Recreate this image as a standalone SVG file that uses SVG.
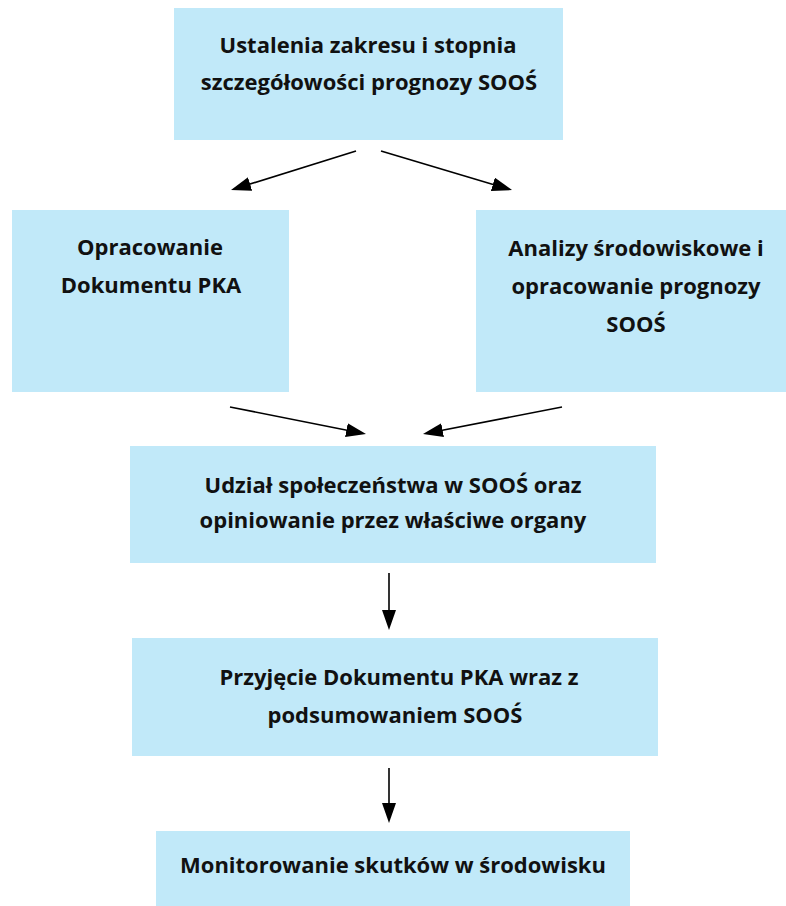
<svg xmlns="http://www.w3.org/2000/svg" width="786" height="906" viewBox="0 0 786 906">
<style>
.box{fill:#C1E9F9;}
.t{font-family:"Open Sans",Lato,"Liberation Sans",sans-serif;font-weight:bold;font-size:22px;fill:#111;text-anchor:middle;}
.c{stroke:#000;stroke-width:1.6;fill:none;marker-end:url(#ah);}
</style>
<defs>
<marker id="ah" markerUnits="userSpaceOnUse" markerWidth="20" markerHeight="14" refX="16" refY="7" orient="auto">
<path d="M0,0 L20,7 L0,14 z" fill="#000"/>
</marker>
</defs>
<rect width="786" height="906" fill="#fff"/>
<g id="n1">
<rect class="box" x="174" y="8" width="389" height="132"/>
<text class="t" x="368" y="53">Ustalenia zakresu i stopnia</text>
<text class="t" x="369" y="90">szczegółowości prognozy SOOŚ</text>
</g>
<g id="n2">
<rect class="box" x="12" y="210" width="277" height="182"/>
<text class="t" x="150" y="255">Opracowanie</text>
<text class="t" x="151" y="293">Dokumentu PKA</text>
</g>
<g id="n3">
<rect class="box" x="476" y="210" width="310" height="182"/>
<text class="t" x="636" y="256">Analizy środowiskowe i</text>
<text class="t" x="636" y="294">opracowanie prognozy</text>
<text class="t" x="636" y="332">SOOŚ</text>
</g>
<g id="n4">
<rect class="box" x="130" y="446" width="526" height="117"/>
<text class="t" x="393" y="493">Udział społeczeństwa w SOOŚ oraz</text>
<text class="t" x="393" y="528">opiniowanie przez właściwe organy</text>
</g>
<g id="n5">
<rect class="box" x="132" y="638" width="526" height="118"/>
<text class="t" x="399" y="685">Przyjęcie Dokumentu PKA wraz z</text>
<text class="t" x="395" y="723">podsumowaniem SOOŚ</text>
</g>
<g id="n6">
<rect class="box" x="156" y="831" width="474" height="75"/>
<text class="t" x="393" y="873">Monitorowanie skutków w środowisku</text>
</g>
<g id="connectors">
<line class="c" x1="356" y1="151" x2="234.8" y2="188.8"/>
<line class="c" x1="381" y1="151" x2="508.2" y2="188.9"/>
<line class="c" x1="230" y1="407" x2="362.1" y2="433.2"/>
<line class="c" x1="562" y1="407" x2="426.9" y2="433.2"/>
<line class="c" x1="389" y1="573" x2="389" y2="626"/>
<line class="c" x1="389" y1="768" x2="389" y2="819"/>
</g>
</svg>
